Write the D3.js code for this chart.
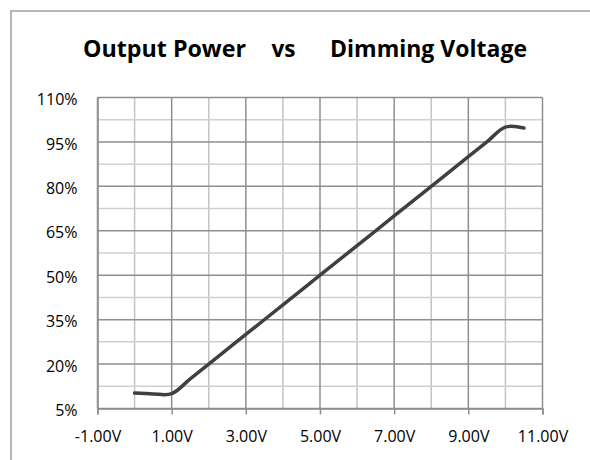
<!DOCTYPE html>
<html>
<head>
<meta charset="utf-8">
<script src="https://cdn.jsdelivr.net/npm/d3@7"></script>
<style>
  html, body { margin: 0; padding: 0; background: #fff; }
  svg { display: block; }
  text { font-family: "Open Sans", Lato, sans-serif; fill: #000; }
</style>
</head>
<body>
<svg id="chart" width="590" height="460"></svg>
<script>
// ---- data ----
const voltages = [0, 0.5, 1, 1.5, 2, 3, 4, 5, 6, 7, 8, 9, 9.5, 10, 10.5];
const powerPct = [10.2, 9.9, 10, 15, 20, 30, 40, 50, 60, 70, 80, 90, 95, 100, 99.7];
const xTicks = [-1, 1, 3, 5, 7, 9, 11];
const yTicks = [5, 20, 35, 50, 65, 80, 95, 110];
const titleParts = ["Output Power", "vs", "Dimming Voltage"];

const svg = d3.select("#chart");
const m = { left: 97.5, top: 97.5, right: 542.5, bottom: 408.5 };

// outer frame
svg.append("rect").attr("x", 11).attr("y", 11).attr("width", 620).attr("height", 500)
  .attr("fill", "#fff").attr("stroke", "#a0a0a0").attr("stroke-width", 1.5);

const x = d3.scaleLinear().domain([-1, 11]).range([m.left, m.right]);
const y = d3.scaleLinear().domain([5, 110]).range([m.bottom, m.top]);

// title
const tx = [83, 271.5, 330], tw = [163, 24, 197];
titleParts.forEach((t, i) => {
  svg.append("text").attr("x", tx[i]).attr("y", 57.3).text(t)
    .attr("font-family", "Lato, sans-serif")
    .attr("font-size", 24).attr("font-weight", "bold")
    .attr("textLength", tw[i]).attr("lengthAdjust", "spacingAndGlyphs");
});

const g = svg.append("g");
// minor gridlines
const minorX = d3.range(0, 11, 2);
const minorY = d3.range(12.5, 110, 15);
g.selectAll(".mx").data(minorX).join("line")
  .attr("x1", d => x(d)).attr("x2", d => x(d)).attr("y1", m.top).attr("y2", m.bottom)
  .attr("stroke", "#c4c4c4").attr("stroke-width", 1.5);
g.selectAll(".my").data(minorY).join("line")
  .attr("x1", m.left).attr("x2", m.right).attr("y1", d => y(d)).attr("y2", d => y(d))
  .attr("stroke", "#d0d0d0").attr("stroke-width", 1.5);
// major gridlines
g.selectAll(".Mx").data(xTicks).join("line")
  .attr("x1", d => x(d)).attr("x2", d => x(d)).attr("y1", m.top).attr("y2", m.bottom)
  .attr("stroke", "#8e8e8e").attr("stroke-width", 1.5);
g.selectAll(".My").data(yTicks).join("line")
  .attr("x1", m.left).attr("x2", m.right).attr("y1", d => y(d)).attr("y2", d => y(d))
  .attr("stroke", "#8e8e8e").attr("stroke-width", 1.5);

// x axis
const xAxis = d3.axisBottom(x).tickValues(xTicks).tickSize(6).tickPadding(16)
  .tickFormat(d => d.toFixed(2) + "V");
const xa = svg.append("g").attr("transform", `translate(0,${m.bottom})`).call(xAxis);
xa.select(".domain").attr("stroke", "#8e8e8e").attr("stroke-width", 1.5);
xa.selectAll(".tick line").attr("stroke", "#8e8e8e").attr("stroke-width", 1.5);
xa.selectAll("text").attr("font-size", 16).attr("font-family", "'Open Sans', sans-serif").attr("fill", "#000");

// y axis
const yAxis = d3.axisLeft(y).tickValues(yTicks).tickSize(0).tickPadding(20)
  .tickFormat(d => d + "%");
const ya = svg.append("g").attr("transform", `translate(${m.left},0)`).call(yAxis);
ya.select(".domain").attr("stroke", "#8e8e8e").attr("stroke-width", 1.5);
ya.selectAll("text").attr("font-size", 16).attr("dy", "0.45em")
  .attr("font-family", "'Open Sans', sans-serif").attr("fill", "#000");

// line
const pts = voltages.map((v, i) => [v, powerPct[i]]);
const line = d3.line().x(d => x(d[0])).y(d => y(d[1])).curve(d3.curveCatmullRom.alpha(0.5));
svg.append("path").datum(pts).attr("d", line)
  .attr("fill", "none").attr("stroke", "#404040").attr("stroke-width", 3.5)
  .attr("stroke-linecap", "round").attr("stroke-linejoin", "round");
</script>
</body>
</html>
